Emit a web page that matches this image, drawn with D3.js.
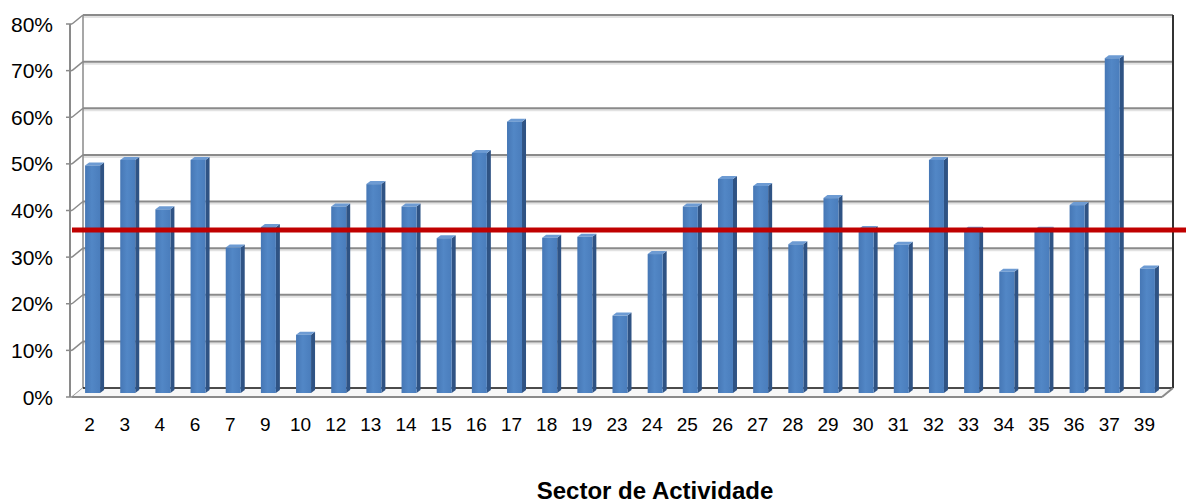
<!DOCTYPE html>
<html>
<head>
<meta charset="utf-8">
<script src="https://cdn.jsdelivr.net/npm/d3@7"></script>
<style>
  body { margin: 0; background: #fff; }
  text { font-family: "Liberation Sans", Arial, sans-serif; fill: #000; }
</style>
</head>
<body>
<div id="chartArea"></div>
<script>
// sectors and share per sector
const sectors = ["2","3","4","6","7","9","10","12","13","14","15","16","17","18","19","23","24","25","26","27","28","29","30","31","32","33","34","35","36","37","39"];
const shares = [0.488,0.50,0.394,0.50,0.312,0.356,0.125,0.40,0.448,0.40,0.332,0.515,0.582,0.333,0.335,0.166,0.298,0.40,0.459,0.444,0.319,0.418,0.352,0.318,0.50,0.35,0.26,0.35,0.403,0.718,0.267];
const yTicks = [0,0.1,0.2,0.3,0.4,0.5,0.6,0.7,0.8];
const averageShare = 0.358;
const xTitle = "Sector de Actividade";

const width = 1186, height = 503;
const depthX = -11, depthY = 9;   // back wall -> front edge
const barDX = -8, barDY = 5;       // bars sit half way in depth

const svg = d3.select("#chartArea").append("svg")
    .attr("width", width)
    .attr("height", height);

// back wall scales
const x = d3.scaleBand().domain(sectors).range([83, 1173]).paddingInner(0).paddingOuter(0);
const y = d3.scaleLinear().domain([0, 0.8]).range([388, 15]);

const grid = svg.append("g");

// back wall gridlines with a faint echo below
grid.selectAll(".echo").data(yTicks.slice(1)).enter().append("line")
    .attr("x1", 83).attr("x2", 1173)
    .attr("y1", d => y(d) + 2).attr("y2", d => y(d) + 2)
    .attr("stroke", "#e2e2e2").attr("stroke-width", 2);
grid.selectAll(".gl").data(yTicks.slice(1)).enter().append("line")
    .attr("x1", 83).attr("x2", 1173)
    .attr("y1", d => y(d)).attr("y2", d => y(d))
    .attr("stroke", "#8a8a8a").attr("stroke-width", 2);

// left side wall diagonals + tick marks
grid.selectAll(".diag").data(yTicks).enter().append("line")
    .attr("x1", 83 + depthX).attr("y1", d => y(d) + depthY)
    .attr("x2", 83).attr("y2", d => y(d))
    .attr("stroke", "#8a8a8a").attr("stroke-width", 1.5);
grid.selectAll(".tick").data(yTicks).enter().append("line")
    .attr("x1", 66).attr("x2", 83 + depthX)
    .attr("y1", d => y(d) + depthY).attr("y2", d => y(d) + depthY)
    .attr("stroke", "#8a8a8a").attr("stroke-width", 1.5);

// wall edges
grid.append("line").attr("x1", 83).attr("x2", 83).attr("y1", y(0.8)).attr("y2", y(0))
    .attr("stroke", "#8a8a8a").attr("stroke-width", 1.5);
grid.append("line").attr("x1", 70).attr("x2", 70).attr("y1", y(0.8) + depthY).attr("y2", y(0) + depthY)
    .attr("stroke", "#8a8a8a").attr("stroke-width", 2);
grid.append("line").attr("x1", 1173).attr("x2", 1173).attr("y1", y(0.8)).attr("y2", y(0))
    .attr("stroke", "#333").attr("stroke-width", 2);

// floor
grid.append("path")
    .attr("d", `M83,${y(0)}L1173,${y(0)}L${1173 + depthX},${y(0) + depthY}L${83 + depthX},${y(0) + depthY}Z`)
    .attr("fill", "#f7f7f7").attr("stroke", "none");
grid.append("line").attr("x1", 83).attr("x2", 1173).attr("y1", y(0)).attr("y2", y(0))
    .attr("stroke", "#111").attr("stroke-width", 1.5);
grid.append("line").attr("x1", 83 + depthX).attr("x2", 1173 + depthX)
    .attr("y1", y(0) + depthY).attr("y2", y(0) + depthY)
    .attr("stroke", "#8a8a8a").attr("stroke-width", 2);
grid.append("line").attr("x1", 1173).attr("y1", y(0))
    .attr("x2", 1173 + depthX).attr("y2", y(0) + depthY)
    .attr("stroke", "#8a8a8a").attr("stroke-width", 2);

// bars
const defs = svg.append("defs");
const grad = defs.append("linearGradient").attr("id", "barFront")
    .attr("x1", "0%").attr("x2", "100%").attr("y1", "0%").attr("y2", "0%");
grad.append("stop").attr("offset", "0%").attr("stop-color", "#4677b5");
grad.append("stop").attr("offset", "45%").attr("stop-color", "#5287c6");
grad.append("stop").attr("offset", "100%").attr("stop-color", "#4a7dbc");

const faceW = 15, sideW = 4, capH = 3;
const bars = svg.append("g").selectAll("g").data(sectors).enter().append("g");

bars.each(function(s, i) {
    const g = d3.select(this);
    const cx = x(s) + x.bandwidth() / 2 + barDX;
    const x0 = cx - faceW / 2, x1 = cx + faceW / 2;
    const top = y(shares[i]) + barDY, base = y(0) + barDY;
    g.append("path")
        .attr("d", `M${x1},${top}L${x1 + sideW},${top - capH}L${x1 + sideW},${base - capH}L${x1},${base}Z`)
        .attr("fill", "#2f5384");
    g.append("path")
        .attr("d", `M${x0},${top}L${x0 + sideW},${top - capH}L${x1 + sideW},${top - capH}L${x1},${top}Z`)
        .attr("fill", "#6d9bd3");
    g.append("rect")
        .attr("x", x0).attr("y", top)
        .attr("width", faceW).attr("height", base - top)
        .attr("fill", "url(#barFront)");
});

// average line
svg.append("line")
    .attr("x1", 83 + depthX).attr("x2", width)
    .attr("y1", y(averageShare) + depthY).attr("y2", y(averageShare) + depthY)
    .attr("stroke", "#c00000").attr("stroke-width", 5);

// y labels
svg.append("g").selectAll("text").data(yTicks).enter().append("text")
    .attr("x", 53).attr("y", d => y(d) + depthY)
    .attr("dy", "0.36em")
    .attr("text-anchor", "end")
    .style("font-size", "21px")
    .text(d => d3.format(".0%")(d));

// x labels on the front edge
svg.append("g").selectAll("text").data(sectors).enter().append("text")
    .attr("x", d => x(d) + x.bandwidth() / 2 + depthX)
    .attr("y", 431)
    .attr("text-anchor", "middle")
    .style("font-size", "19px")
    .text(d => d);

svg.append("text")
    .attr("x", 655).attr("y", 499)
    .attr("text-anchor", "middle")
    .style("font-size", "24px").style("font-weight", "bold")
    .text(xTitle);
</script>
</body>
</html>
